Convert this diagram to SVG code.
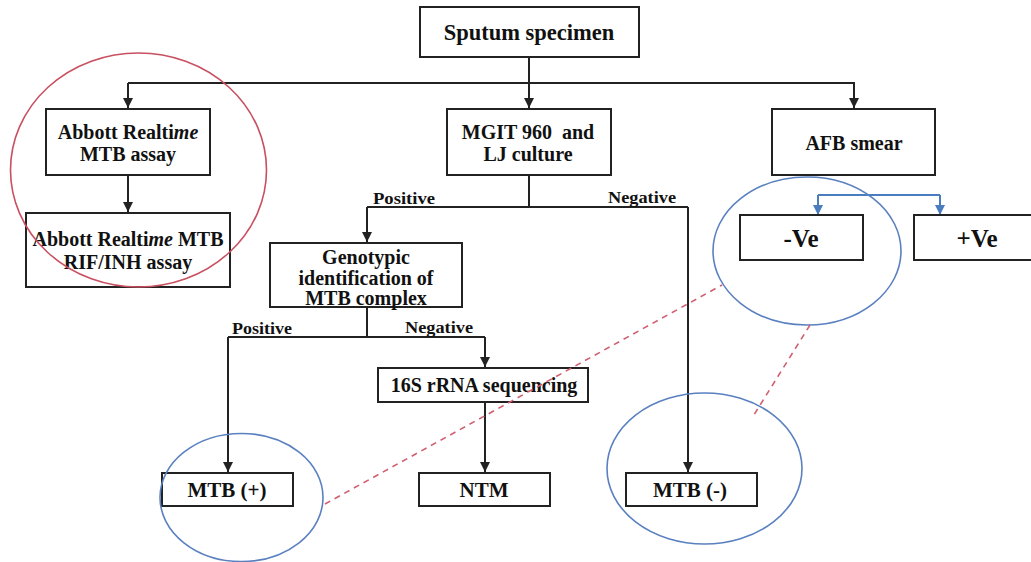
<svg xmlns="http://www.w3.org/2000/svg" width="1031" height="562" viewBox="0 0 1031 562">
<style>
.box{fill:#fff;stroke:#222;stroke-width:2}
.t{font-family:"Liberation Serif","Times New Roman",serif;font-weight:bold;font-size:20px;fill:#111;text-anchor:middle}
.big{font-size:22.5px}
.ve{font-size:25px}
.mtb{font-size:21px}
.lbl{font-family:"Liberation Serif","Times New Roman",serif;font-weight:bold;font-size:16px;fill:#111}
.c{fill:none;stroke:#222;stroke-width:2}
.cb{fill:none;stroke:#4a7cc0;stroke-width:2}
.ring{fill:none;stroke:#5a80c0;stroke-width:1.6}
.dash{fill:none;stroke:#d06070;stroke-width:1.6;stroke-dasharray:6 5}
</style>
<defs>
<marker id="ah" viewBox="0 0 10 10" refX="10" refY="5" markerWidth="5" markerHeight="5" orient="auto" markerUnits="strokeWidth"><path d="M0,0 L10,5 L0,10 z" fill="#222"/></marker>
<marker id="ahb" viewBox="0 0 10 10" refX="10" refY="5" markerWidth="5" markerHeight="5" orient="auto" markerUnits="strokeWidth"><path d="M0,0 L10,5 L0,10 z" fill="#4a7cc0"/></marker>
</defs>
<g id="connectors">
<path class="c" d="M529,57 V108" marker-end="url(#ah)"/>
<path class="c" d="M128,83 H854 V108" marker-end="url(#ah)"/>
<path class="c" d="M128,83 V108" marker-end="url(#ah)"/>
<path class="c" d="M128,175 V212" marker-end="url(#ah)"/>
<path class="c" d="M529,175 V207"/>
<path class="c" d="M367,207 H688"/>
<path class="c" d="M367,207 V242" marker-end="url(#ah)"/>
<path class="c" d="M688,207 V472" marker-end="url(#ah)"/>
<path class="c" d="M367,307 V337"/>
<path class="c" d="M228,337 H485"/>
<path class="c" d="M228,337 V472" marker-end="url(#ah)"/>
<path class="c" d="M485,337 V367" marker-end="url(#ah)"/>
<path class="c" d="M485,402 V472" marker-end="url(#ah)"/>
<path class="cb" d="M818,195 H940"/>
<path class="cb" d="M818,195 V215" marker-end="url(#ahb)"/>
<path class="cb" d="M940,195 V215" marker-end="url(#ahb)"/>
<text class="lbl" x="373" y="204" textLength="62" lengthAdjust="spacingAndGlyphs">Positive</text>
<text class="lbl" x="608" y="203" textLength="68" lengthAdjust="spacingAndGlyphs">Negative</text>
<text class="lbl" x="232" y="334" textLength="60" lengthAdjust="spacingAndGlyphs">Positive</text>
<text class="lbl" x="405" y="333" textLength="68" lengthAdjust="spacingAndGlyphs">Negative</text>
</g>
<g id="sputum"><rect class="box" x="420" y="7" width="219" height="50"/><text class="t big" x="529" y="40">Sputum specimen</text></g>
<g id="abbott1"><rect class="box" x="46" y="109" width="164" height="66"/><text class="t" x="128" y="139">Abbott Realti<tspan font-style="italic">me</tspan></text><text class="t" x="128" y="161">MTB assay</text></g>
<g id="abbott2"><rect class="box" x="26" y="213" width="204" height="74"/><text class="t" x="128" y="246">Abbott Realti<tspan font-style="italic">me</tspan> MTB</text><text class="t" x="128" y="269">RIF/INH assay</text></g>
<g id="mgit"><rect class="box" x="447" y="109" width="164" height="66"/><text class="t" x="528" y="139" xml:space="preserve">MGIT 960  and</text><text class="t" x="528" y="161">LJ culture</text></g>
<g id="afb"><rect class="box" x="772" y="109" width="163" height="66"/><text class="t" x="854" y="150">AFB smear</text></g>
<g id="neg"><rect class="box" x="740" y="215" width="123" height="45"/><text class="t ve" x="801" y="247">-Ve</text></g>
<g id="pos"><rect class="box" x="914" y="215" width="122" height="45"/><text class="t ve" x="977" y="247">+Ve</text></g>
<g id="geno"><rect class="box" x="270" y="243" width="192" height="64"/><text class="t" x="366" y="264">Genotypic</text><text class="t" x="366" y="285">identification of</text><text class="t" x="366" y="305">MTB complex</text></g>
<g id="rrna"><rect class="box" x="378" y="368" width="210" height="34"/><text class="t" x="484" y="392">16S rRNA sequencing</text></g>
<g id="mtbpos"><rect class="box" x="162" y="473" width="131" height="33"/><text class="t mtb" x="227" y="497">MTB (+)</text></g>
<g id="ntm"><rect class="box" x="419" y="473" width="131" height="33"/><text class="t mtb" x="484" y="497">NTM</text></g>
<g id="mtbneg"><rect class="box" x="626" y="473" width="131" height="33"/><text class="t mtb" x="690" y="497">MTB (-)</text></g>
<g id="highlights">
<ellipse cx="138.5" cy="170" rx="128" ry="117" fill="none" stroke="#c85060" stroke-width="1.6"/>
<ellipse class="ring" cx="807" cy="251" rx="94" ry="74"/>
<ellipse class="ring" cx="241.5" cy="497.5" rx="81.5" ry="64"/>
<ellipse class="ring" cx="704.5" cy="468.5" rx="97.5" ry="75.5"/>
<path class="dash" d="M325,504 L722,285"/>
<path class="dash" d="M810,325 L752,418"/>
</g>
</svg>
